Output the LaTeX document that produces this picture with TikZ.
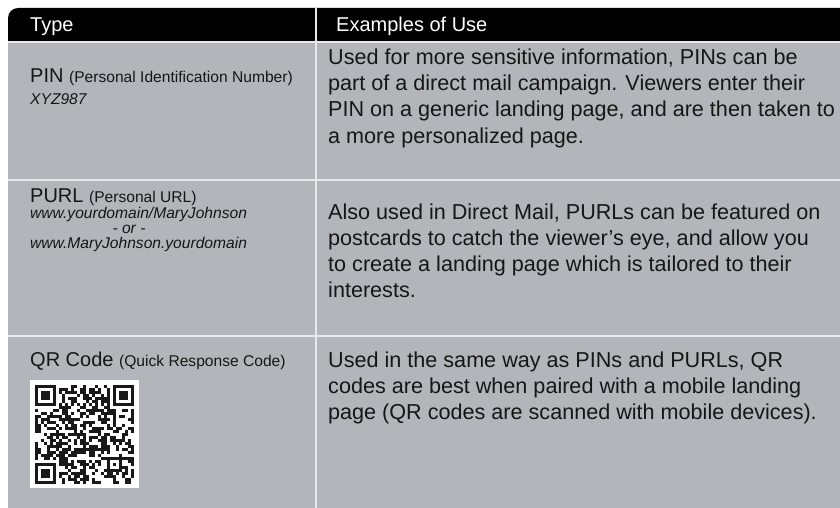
\documentclass[tikz,border=0pt]{standalone}
\usepackage{fontspec}
\setmainfont{Liberation Sans}
\definecolor{cellgray}{RGB}{180,181,186}
\definecolor{txt}{RGB}{22,22,22}
\definecolor{sepc}{RGB}{232,232,234}
\definecolor{qrblack}{RGB}{25,25,25}
\begin{document}
\begin{tikzpicture}[x=1pt,y=-1pt,
  body/.style={anchor=base west, inner sep=0pt, font=\fontsize{21.6}{26}\selectfont, text=txt},
  head/.style={anchor=base west, inner sep=0pt, font=\fontsize{20}{24}\selectfont, text=white},
  big/.style={anchor=base west, inner sep=0pt, font=\fontsize{20}{24}\selectfont, text=txt},
  small/.style={anchor=base west, inner sep=0pt, font=\fontsize{15.6}{18}\selectfont\itshape, text=txt},
  sepline/.style={draw=sepc, line width=2pt},
  qrmod/.style={fill=qrblack}
]
\useasboundingbox (0,0) rectangle (840,508);
\fill[white] (0,0) rectangle (840,508);
% table body
\fill[cellgray] (8,42) rectangle (840,508);
% header bar, rounded top-left corner
\fill[black] (8,42) [rounded corners=10pt] -- (8,8) [sharp corners] -- (840,8) -- (840,42) -- cycle;
% separators
\draw[sepline] (8,42) -- (840,42);
\draw[sepline] (8,179.5) -- (840,179.5);
\draw[sepline] (8,336) -- (840,336);
\draw[sepline] (316,8) -- (316,508);

% header
\node[head] (hType) at (30,32) {Type};
\node[head] (hEx) at (336,32) {Examples of Use};

% row 1
\node[big] (pin) at (30,83) {PIN {\fontsize{15.6}{18}\selectfont(Personal Identification Number)}};
\node[small] (pinex) at (30,105) {XYZ987};
\foreach \t [count=\k] in {{Used for more sensitive information, PINs can be},
  {part of a direct mail campaign. Viewers enter their},
  {PIN on a generic landing page, and are then taken to},
  {a more personalized page.}}
  \node[body] (ra\k) at (328,{65+26*(\k-1)}) {\t};

% row 2
\node[big] (purl) at (30,202) {PURL {\fontsize{15.6}{18}\selectfont(Personal URL)}};
\node[small] (url1) at (30,218.5) {www.yourdomain/MaryJohnson};
\node[small, anchor=base] (orr) at (129,233.5) {- or -};
\node[small] (url2) at (30,248.5) {www.MaryJohnson.yourdomain};
\foreach \t [count=\k] in {{Also used in Direct Mail, PURLs can be featured on},
  {postcards to catch the viewer’s eye, and allow you},
  {to create a landing page which is tailored to their},
  {interests.}}
  \node[body] (rb\k) at (328,{219+26*(\k-1)}) {\t};

% row 3
\node[big] (qr) at (30,366) {QR Code {\fontsize{15.6}{18}\selectfont(Quick Response Code)}};
\foreach \t [count=\k] in {{Used in the same way as PINs and PURLs, QR},
  {codes are best when paired with a mobile landing},
  {page (QR codes are scanned with mobile devices).}}
  \node[body] (rc\k) at (328,{367+26*(\k-1)}) {\t};

% QR code image
\node[fill=white, inner sep=0pt, minimum width=109pt, minimum height=108pt, anchor=north west] (qrimg) at (30,380) {};
\pgfmathsetseed{20231}
\foreach \qi in {0,...,32}{
  \foreach \qj in {0,...,32}{
    \pgfmathtruncatemacro{\res}{((\qi<8)&&(\qj<8)) || ((\qi<8)&&(\qj>24)) || ((\qi>24)&&(\qj<8)) || ((\qi>23)&&(\qi<29)&&(\qj>23)&&(\qj<29)) || (\qi==6) || (\qj==6)}
    \ifnum\res=0
      \pgfmathtruncatemacro{\bk}{rnd<0.5}
      \ifnum\bk=1 \fill[qrmod] ({35+3*\qj},{385+3*\qi}) rectangle +(3.05,3.05); \fi
    \fi
  }
}
\foreach \k in {8,10,...,24}{
  \fill[qrmod] ({35+18},{385+3*\k}) rectangle +(3,3);
  \fill[qrmod] ({35+3*\k},{385+18}) rectangle +(3,3);
}
\foreach \fx/\fy in {0/0, 26/0, 0/26}{
  \fill[qrmod] ({35+3*\fx},{385+3*\fy}) rectangle +(21,21);
  \fill[white] ({38+3*\fx},{388+3*\fy}) rectangle +(15,15);
  \fill[qrmod] ({41+3*\fx},{391+3*\fy}) rectangle +(9,9);
}
\fill[qrmod] (107,457) rectangle +(15,15);
\fill[white] (110,460) rectangle +(9,9);
\fill[qrmod] (113,463) rectangle +(3,3);
\end{tikzpicture}
\end{document}
